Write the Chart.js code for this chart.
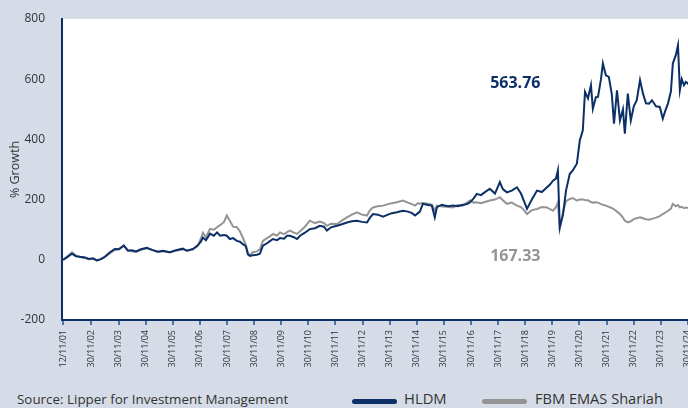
<!DOCTYPE html>
<html>
<head>
<meta charset="utf-8">
<script src="https://cdn.jsdelivr.net/npm/chart.js@4.4.1/dist/chart.umd.min.js"></script>
<style>
  html, body { margin: 0; padding: 0; }
  body { width: 688px; height: 408px; overflow: hidden; background: #d6dce7; position: relative; font-family: "Open Sans", sans-serif; }
  #growth-chart { position: absolute; left: 0; top: 0; }
  .note { position: absolute; line-height: 1; color: #333; white-space: nowrap; }
  .swatch { position: absolute; height: 5px; border-radius: 3px; }
</style>
</head>
<body>
<canvas id="growth-chart" width="740" height="380"></canvas>
<div class="note" style="left:17px; top:393px; font-size:13.4px;">Source: Lipper for Investment Management</div>
<div class="swatch" style="left:352px; top:399px; width:45px; background:#0b2f66;"></div>
<div class="note" style="left:404px; top:391px; font-size:14.8px;">HLDM</div>
<div class="swatch" style="left:482px; top:399px; width:45px; background:#949494;"></div>
<div class="note" style="left:535px; top:391px; font-size:14.6px;">FBM EMAS Shariah</div>
<script>
// sample dates as decimal years, % growth since launch
const dates = [
  2001.87, 2002.01, 2002.20, 2002.34, 2002.49, 2002.68, 2002.82, 2002.97, 2003.12, 2003.27,
  2003.41, 2003.60, 2003.78, 2003.93, 2004.11, 2004.26, 2004.41, 2004.56, 2004.74, 2004.96,
  2005.15, 2005.37, 2005.55, 2005.81, 2006.03, 2006.29, 2006.44, 2006.66, 2006.84, 2006.95,
  2007.03, 2007.14, 2007.29, 2007.43, 2007.55, 2007.66, 2007.80, 2007.91, 2008.02, 2008.14,
  2008.28, 2008.39, 2008.50, 2008.61, 2008.69, 2008.76, 2008.87, 2009.02, 2009.13, 2009.24,
  2009.39, 2009.50, 2009.61, 2009.76, 2009.87, 2010.02, 2010.13, 2010.24, 2010.38, 2010.50,
  2010.61, 2010.79, 2010.97, 2011.16, 2011.34, 2011.49, 2011.60, 2011.75, 2011.97, 2012.15,
  2012.34, 2012.52, 2012.71, 2012.89, 2013.08, 2013.19, 2013.30, 2013.48, 2013.67, 2013.85,
  2014.00, 2014.18, 2014.40, 2014.59, 2014.74, 2014.85, 2014.96, 2015.03, 2015.14, 2015.33,
  2015.47, 2015.58, 2015.66, 2015.84, 2016.06, 2016.25, 2016.43, 2016.62, 2016.77, 2016.88,
  2017.02, 2017.13, 2017.28, 2017.43, 2017.61, 2017.80, 2017.98, 2018.09, 2018.24, 2018.42,
  2018.61, 2018.76, 2018.87, 2018.98, 2019.16, 2019.35, 2019.53, 2019.72, 2019.83, 2019.94,
  2020.05, 2020.12, 2020.19, 2020.31, 2020.42, 2020.56, 2020.67, 2020.82, 2020.93, 2021.04,
  2021.12, 2021.23, 2021.34, 2021.41, 2021.52, 2021.60, 2021.71, 2021.78, 2021.89, 2022.00,
  2022.11, 2022.19, 2022.30, 2022.41, 2022.52, 2022.59, 2022.70, 2022.81, 2022.92, 2023.03,
  2023.15, 2023.26, 2023.37, 2023.48, 2023.59, 2023.74, 2023.88, 2023.99, 2024.10, 2024.18,
  2024.29, 2024.36, 2024.47, 2024.55, 2024.62, 2024.69, 2024.77, 2024.84, 2024.92, 2025.06
];
const hldm = [
  0, 8, 20, 12, 10, 8, 3, 5, -2, 2,
  10, 25, 36, 35, 48, 30, 32, 28, 35, 40,
  33, 27, 30, 25, 32, 37, 30, 36, 48, 60,
  74, 65, 87, 80, 91, 80, 82, 80, 69, 72,
  63, 60, 52, 45, 18, 13, 15, 17, 20, 47,
  55, 62, 69, 65, 72, 70, 80, 80, 75, 69,
  80, 90, 102, 105, 113, 110, 97, 108, 113, 118,
  124, 128, 130, 126, 124, 140, 152, 150, 143, 150,
  155, 158, 163, 160, 155, 147, 155, 160, 186, 182,
  180, 141, 175, 183, 178, 180, 178, 183, 185, 191,
  205, 219, 215, 225, 236, 220, 258, 235, 224, 230,
  241, 220, 195, 169, 200, 230, 225, 241, 250, 263,
  270, 297, 108, 150, 230, 286, 297, 319, 397, 430,
  558, 536, 580, 502, 540, 541, 600, 652, 613, 608,
  550, 452, 563, 463, 500, 419, 552, 463, 510, 530,
  597, 552, 520, 519, 530, 510, 508, 469, 500, 519,
  560, 652, 680, 713, 563, 600, 580, 591, 586, 563.76
];
const fbmEmasShariah = [
  0, 10, 25, 14, 9, 6, 2, 3, -2, 3,
  9, 22, 33, 36, 46, 33, 28, 26, 33, 38,
  33, 26, 28, 24, 30, 35, 30, 34, 46, 70,
  90, 75, 103, 100, 108, 115, 125, 147, 130, 110,
  108, 95, 74, 50, 20, 15, 25, 28, 35, 63,
  72, 78, 86, 80, 91, 85, 92, 97, 90, 86,
  95, 110, 130, 122, 127, 122, 113, 120, 119, 130,
  141, 150, 158, 150, 147, 165, 174, 178, 180, 185,
  188, 191, 197, 190, 185, 180, 188, 186, 189, 186,
  183, 165, 180, 177, 176, 174, 182, 180, 190, 197,
  190, 191, 188, 192, 197, 200, 208, 198, 186, 190,
  180, 175, 165, 152, 165, 169, 175, 174, 168, 163,
  175, 190, 103, 160, 195, 202, 205, 197, 200, 200,
  199, 198, 192, 190, 191, 190, 185, 183, 180, 176,
  172, 168, 160, 152, 140, 130, 124, 128, 135, 138,
  141, 138, 135, 133, 136, 140, 145, 152, 158, 162,
  170, 186, 178, 182, 174, 176, 172, 173, 173, 167.33
];
const tickDates = [
  2001.865, 2002.915, 2003.915, 2004.915, 2005.915, 2006.915, 2007.915, 2008.915,
  2009.915, 2010.915, 2011.915, 2012.915, 2013.915, 2014.915, 2015.915, 2016.915,
  2017.915, 2018.915, 2019.915, 2020.915, 2021.915, 2022.915, 2023.915, 2024.915
];
const tickLabels = [
  "12/11/01", "30/11/02", "30/11/03", "30/11/04", "30/11/05", "30/11/06", "30/11/07", "30/11/08",
  "30/11/09", "30/11/10", "30/11/11", "30/11/12", "30/11/13", "30/11/14", "30/11/15", "30/11/16",
  "30/11/17", "30/11/18", "30/11/19", "30/11/20", "30/11/21", "30/11/22", "30/11/23", "30/11/24"
];
const endLabels = ["563.76", "167.33"];

const NAVY = "#0b2f66";
const GREY = "#949494";

// white plot area
const plotBackground = {
  id: "plotBackground",
  beforeDraw(chart) {
    const { ctx, chartArea: a } = chart;
    ctx.save();
    ctx.fillStyle = "#ffffff";
    ctx.fillRect(a.left, a.top, a.right - a.left, a.bottom - a.top);
    ctx.restore();
  },
};

// final values written inside the chart
const valueLabels = {
  id: "valueLabels",
  afterDatasetsDraw(chart) {
    const { ctx, scales } = chart;
    const x = scales.x.getPixelForValue(2018.55);
    ctx.save();
    ctx.font = "bold 16px 'Open Sans', sans-serif";
    ctx.textAlign = "center";
    ctx.textBaseline = "middle";
    ctx.fillStyle = NAVY;
    ctx.fillText(endLabels[0], x, scales.y.getPixelForValue(585));
    ctx.fillStyle = GREY;
    ctx.fillText(endLabels[1], x, scales.y.getPixelForValue(12));
    ctx.restore();
  },
};

const data_growth = {
  datasets: [
    {
      label: "HLDM",
      data: dates.map((d, i) => ({ x: d, y: hldm[i] })),
      borderColor: NAVY,
      backgroundColor: NAVY,
      borderWidth: 2,
      order: 0,
    },
    {
      label: "FBM EMAS Shariah",
      data: dates.map((d, i) => ({ x: d, y: fbmEmasShariah[i] })),
      borderColor: GREY,
      backgroundColor: GREY,
      borderWidth: 2,
      order: 1,
    },
  ],
};

const config_growth = {
  type: "line",
  data: data_growth,
  options: {
    responsive: false,
    animation: false,
    layout: { padding: { top: 19, right: 20, left: 0, bottom: 0 } },
    elements: { point: { radius: 0 }, line: { tension: 0 } },
    scales: {
      x: {
        type: "linear",
        min: 2001.83,
        max: 2026.1,
        afterBuildTicks(scale) {
          scale.ticks = tickDates.map((v) => ({ value: v }));
        },
        afterFit(scale) {
          scale.height = 60;
        },
        ticks: {
          autoSkip: false,
          maxRotation: 90,
          minRotation: 90,
          padding: 5,
          color: "#333",
          font: { family: "'Open Sans', sans-serif", size: 9 },
          callback: (v, i) => tickLabels[i],
        },
        grid: {
          display: true,
          drawOnChartArea: false,
          drawTicks: true,
          tickLength: 5,
          lineWidth: 2,
          color: "#4f72a8",
        },
        border: { display: true, color: NAVY, width: 2 },
      },
      y: {
        min: -200,
        max: 800,
        afterFit(scale) {
          scale.width = 62;
        },
        ticks: {
          stepSize: 200,
          padding: 9,
          color: "#333",
          font: { family: "'Open Sans', sans-serif", size: 12 },
        },
        grid: { display: false },
        border: { display: true, color: NAVY, width: 2 },
        title: {
          display: true,
          text: "% Growth",
          color: "#333",
          padding: { top: 8, bottom: 0 },
          font: { family: "'Open Sans', sans-serif", size: 12.5 },
        },
      },
    },
    plugins: {
      legend: { display: false },
      tooltip: { enabled: false },
    },
  },
  plugins: [plotBackground, valueLabels],
};

var ctx_growth = document.getElementById("growth-chart").getContext("2d");
var growthChart = new Chart(ctx_growth, config_growth);
</script>
</body>
</html>
